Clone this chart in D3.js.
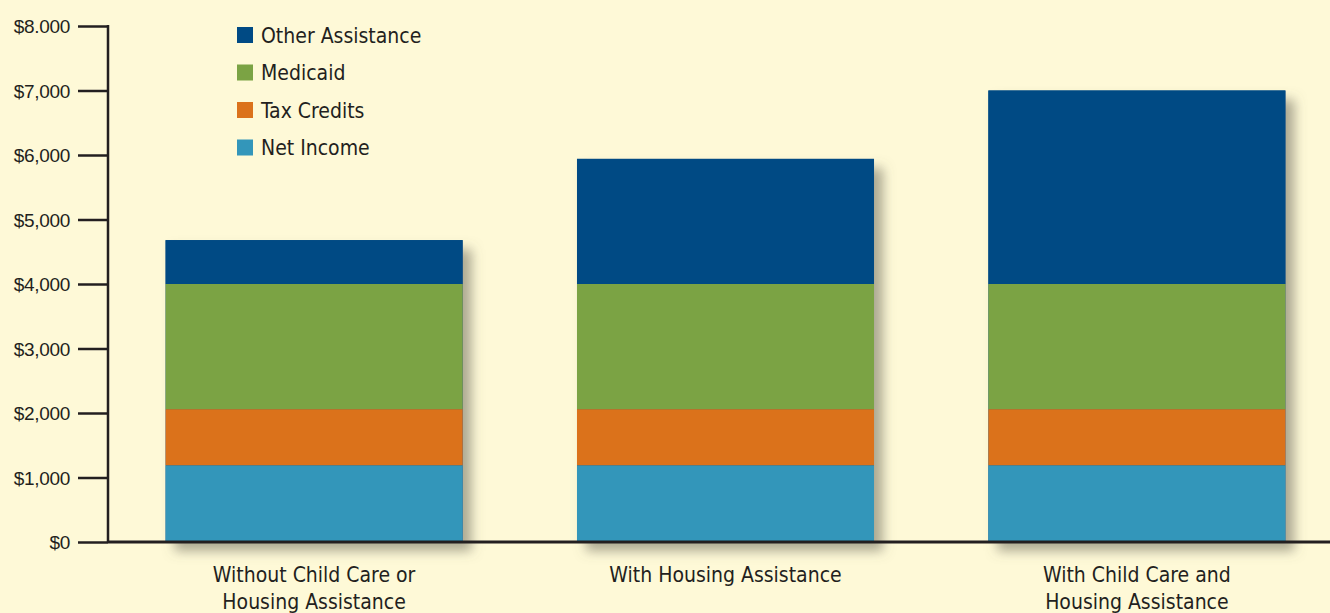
<!DOCTYPE html>
<html>
<head>
<meta charset="utf-8">
<script src="https://cdn.jsdelivr.net/npm/d3@7"></script>
<style>
  html, body { margin: 0; padding: 0; background: #fef9d7; }
  svg { display: block; }
  .tick text { font-family: "Liberation Sans", Arial, sans-serif; font-size: 19px; fill: #231f20; letter-spacing: -0.3px; }
  .cond { font-family: "Liberation Sans Narrow", "DejaVu Sans Condensed", sans-serif; fill: #231f20; }
</style>
</head>
<body>
<div id="chart"></div>
<script>
// data
const categories = [
  ['Without Child Care or', 'Housing Assistance'],
  ['With Housing Assistance'],
  ['With Child Care and', 'Housing Assistance']
];
const seriesNames = ['Net Income', 'Tax Credits', 'Medicaid', 'Other Assistance'];
const netIncome = [1190, 1190, 1190];
const taxCredits = [870, 870, 870];
const medicaid = [1940, 1940, 1940];
const otherAssistance = [680, 1940, 3000];
const tickValues = [0, 1000, 2000, 3000, 4000, 5000, 6000, 7000, 8000];
const tickLabels = ['$0', '$1,000', '$2,000', '$3,000', '$4,000', '$5,000', '$6,000', '$7,000', '$8.000'];
const colors = ['#3396ba', '#db721b', '#7ba344', '#004a84'];

const width = 1330;
const height = 613;
const margin = { top: 26, right: 0, bottom: 71, left: 108 };

const svg = d3.select('#chart').append('svg')
    .attr('width', width)
    .attr('height', height);

svg.append('rect').attr('width', width).attr('height', height).attr('fill', '#fef9d7');

const defs = svg.append('defs');
const filt = defs.append('filter').attr('id', 'shadow')
    .attr('x', '-10%').attr('y', '-10%').attr('width', '130%').attr('height', '130%');
filt.append('feDropShadow')
    .attr('dx', 9).attr('dy', 9).attr('stdDeviation', 6)
    .attr('flood-color', '#6b6658').attr('flood-opacity', 0.55);

const rows = categories.map((c, i) => ({
  key: i,
  'Net Income': netIncome[i],
  'Tax Credits': taxCredits[i],
  'Medicaid': medicaid[i],
  'Other Assistance': otherAssistance[i]
}));

const stack = d3.stack().keys(seriesNames);
const layers = stack(rows);

const x = d3.scaleBand()
    .domain(d3.range(categories.length))
    .range([108, 1343])
    .paddingInner(0.278)
    .paddingOuter(0.14);

const y = d3.scaleLinear()
    .domain([0, 8000])
    .range([height - margin.bottom, margin.top]);

// shadow behind each bar
svg.append('g').selectAll('rect')
    .data(rows)
  .enter()
  .append('rect')
    .attr('x', (d, i) => x(i))
    .attr('y', (d, i) => y(layers[layers.length - 1][i][1]))
    .attr('width', x.bandwidth())
    .attr('height', (d, i) => y(0) - y(layers[layers.length - 1][i][1]))
    .attr('fill', '#004a84')
    .attr('filter', 'url(#shadow)');

// stacked bars
svg.append('g').selectAll('g')
    .data(layers)
  .enter()
  .append('g')
    .attr('fill', (d, i) => colors[i])
  .selectAll('rect')
    .data(d => d)
  .enter()
  .append('rect')
    .attr('x', (d, i) => x(i))
    .attr('y', d => y(d[1]))
    .attr('width', x.bandwidth())
    .attr('height', d => y(d[0]) - y(d[1]));

// y axis
const yAxis = d3.axisLeft(y)
    .tickValues(tickValues)
    .tickFormat((d, i) => tickLabels[i])
    .tickSize(30)
    .tickPadding(8);

const yg = svg.append('g')
    .attr('transform', `translate(${margin.left}, 0)`)
    .call(yAxis);
yg.select('.domain').remove();
yg.selectAll('.tick line').attr('stroke', '#231f20').attr('stroke-width', 2.5);
yg.selectAll('.tick text').attr('dy', '0.36em');

svg.append('line')
    .attr('x1', margin.left).attr('x2', margin.left)
    .attr('y1', y(8000) - 1).attr('y2', y(0))
    .attr('stroke', '#231f20').attr('stroke-width', 2.5);

// baseline
svg.append('line')
    .attr('x1', margin.left).attr('x2', width)
    .attr('y1', y(0)).attr('y2', y(0))
    .attr('stroke', '#231f20').attr('stroke-width', 3);

// category labels
const catLabels = svg.append('g').selectAll('text')
    .data(categories)
  .enter()
  .append('text')
    .attr('class', 'cond')
    .attr('text-anchor', 'middle')
    .attr('font-size', 21)
    .attr('x', (d, i) => x(i) + x.bandwidth() / 2)
    .attr('y', 582);

catLabels.selectAll('tspan')
    .data(d => d)
  .enter()
  .append('tspan')
    .attr('x', function () { return d3.select(this.parentNode).attr('x'); })
    .attr('dy', (d, i) => i === 0 ? 0 : 27)
    .text(d => d);

// legend
const legendOrder = seriesNames.slice().reverse();
const legend = svg.append('g').selectAll('g')
    .data(legendOrder)
  .enter()
  .append('g')
    .attr('transform', (d, i) => `translate(237, ${35 + i * 37.5})`);

legend.append('rect')
    .attr('x', 0).attr('y', -8)
    .attr('width', 16).attr('height', 16)
    .attr('fill', d => colors[seriesNames.indexOf(d)]);

legend.append('text')
    .attr('class', 'cond')
    .attr('x', 24)
    .attr('y', 0)
    .attr('dy', '0.36em')
    .attr('font-size', 21)
    .text(d => d);
</script>
</body>
</html>
